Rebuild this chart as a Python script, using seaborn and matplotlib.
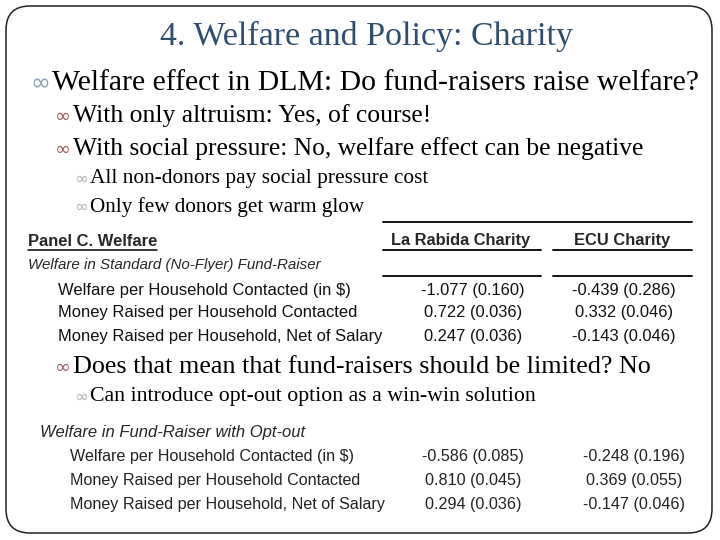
import matplotlib
matplotlib.use("Agg")
import matplotlib.pyplot as plt
import seaborn as sns
from matplotlib.patches import FancyBboxPatch

# ---------------- data ----------------
title = "4. Welfare and Policy: Charity"
bullets_top = [
    (1, "Welfare effect in DLM: Do fund-raisers raise welfare?"),
    (2, "With only altruism: Yes, of course!"),
    (2, "With social pressure: No, welfare effect can be negative"),
    (3, "All non-donors pay social pressure cost"),
    (3, "Only few donors get warm glow"),
]
bullets_mid = [
    (2, "Does that mean that fund-raisers should be limited? No"),
    (3, "Can introduce opt-out option as a win-win solution"),
]
panel_title = "Panel C. Welfare"
columns = ["La Rabida Charity", "ECU Charity"]
section1 = "Welfare in Standard (No-Flyer) Fund-Raiser"
section2 = "Welfare in Fund-Raiser with Opt-out"
row_labels = ["Welfare per Household Contacted (in $)",
              "Money Raised per Household Contacted",
              "Money Raised per Household, Net of Salary"]
s1_rabida_est = ["-1.077", "0.722", "0.247"]
s1_rabida_se = ["0.160", "0.036", "0.036"]
s1_ecu_est = ["-0.439", "0.332", "-0.143"]
s1_ecu_se = ["0.286", "0.046", "0.046"]
s2_rabida_est = ["-0.586", "0.810", "0.294"]
s2_rabida_se = ["0.085", "0.045", "0.036"]
s2_ecu_est = ["-0.248", "0.369", "-0.147"]
s2_ecu_se = ["0.196", "0.055", "0.046"]

# ---------------- figure ----------------
sns.set_theme(style="white")
plt.rcParams['font.family'] = ['Liberation Serif', 'DejaVu Sans']

fig = plt.figure(figsize=(7.2, 5.4), dpi=100)
ax = fig.add_axes([0, 0, 1, 1])
ax.set_xlim(0, 720)
ax.set_ylim(540, 0)
ax.axis("off")
sns.despine(ax=ax, left=True, bottom=True)
fig.canvas.draw()
renderer = fig.canvas.get_renderer()


def fit_text(x, y, s, width, ha="left", **kw):
    t = ax.text(x, y, s, ha=ha, va="center", **kw)
    bb = t.get_window_extent(renderer)
    t.set_fontsize(t.get_fontsize() * width / bb.width)
    return t


# slide border
ax.add_patch(FancyBboxPatch((6, 6), 706, 527,
                            boxstyle="round,pad=0,rounding_size=24",
                            fc="white", ec="#222222", lw=1.1, zorder=0))

# title
fit_text(366, 36, title, 412, ha="center", color="#2F4D6E", fontsize=22)

level_x = {1: 52, 2: 73, 3: 90}
bullet_col = {1: "#8da2b8", 2: "#a05a5a", 3: "#b3b3b3"}
bullet_w = {1: 20, 2: 16, 3: 14}
top_y = [83, 116, 149, 179, 207]
top_w = [648, 359, 571, 338, 275]
mid_y = [367, 397]
mid_w = [578, 446]


def bullet_line(lvl, s, y, w):
    x = level_x[lvl]
    fit_text(x, y, s, w, fontsize=18, color="black")
    fit_text(x - 2, y, "\u221e", bullet_w[lvl], ha="right",
             fontsize=14, color=bullet_col[lvl], family="DejaVu Sans")


for (lvl, s), y, w in zip(bullets_top, top_y, top_w):
    bullet_line(lvl, s, y, w)
for (lvl, s), y, w in zip(bullets_mid, mid_y, mid_w):
    bullet_line(lvl, s, y, w)

sans = "Liberation Sans"
# ---- table 1 ----
ax.plot([383, 692], [222, 222], color="black", lw=1.3)
for y in (250, 276):
    ax.plot([383, 541], [y, y], color="black", lw=1.3)
    ax.plot([553, 692], [y, y], color="black", lw=1.3)
fit_text(28, 241, panel_title, 129, family=sans, weight="bold", fontsize=11)
ax.plot([28, 157], [250, 250], color="black", lw=1.1)
fit_text(461, 241, columns[0], 140, ha="center", family=sans, weight="bold", fontsize=11)
fit_text(622, 241, columns[1], 96, ha="center", family=sans, weight="bold", fontsize=11)
fit_text(28, 265, section1, 294, family=sans, style="italic", fontsize=11)

t1_y = [290, 313, 336]
fs1 = 11.9
for i, y in enumerate(t1_y):
    ax.text(58, y, row_labels[i], ha="left", va="center", family=sans, fontsize=fs1, color="#111111")
    ax.text(473, y, f"{s1_rabida_est[i]} ({s1_rabida_se[i]})", ha="center", va="center",
            family=sans, fontsize=fs1, color="#111111")
    ax.text(624, y, f"{s1_ecu_est[i]} ({s1_ecu_se[i]})", ha="center", va="center",
            family=sans, fontsize=fs1, color="#111111")

# ---- table 2 ----
fit_text(40, 433, section2, 265, family=sans, style="italic", fontsize=11)
t2_y = [457, 481, 505]
fs2 = 11.6
for i, y in enumerate(t2_y):
    ax.text(70, y, row_labels[i], ha="left", va="center", family=sans, fontsize=fs2, color="#222222")
    ax.text(473, y, f"{s2_rabida_est[i]} ({s2_rabida_se[i]})", ha="center", va="center",
            family=sans, fontsize=fs2, color="#222222")
    ax.text(634, y, f"{s2_ecu_est[i]} ({s2_ecu_se[i]})", ha="center", va="center",
            family=sans, fontsize=fs2, color="#222222")

fig.savefig("out.png", dpi=100, facecolor="white")
